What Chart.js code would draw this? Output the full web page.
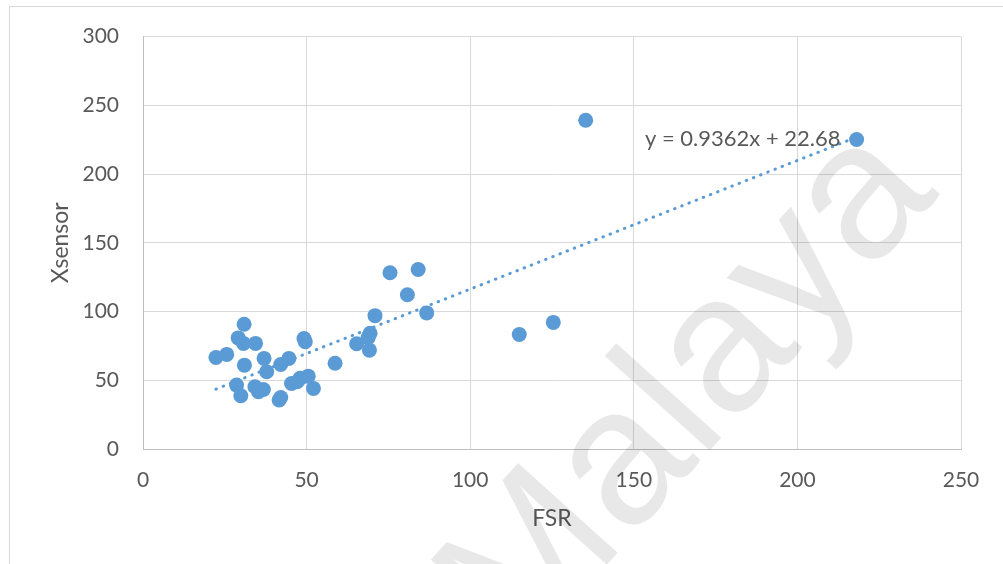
<!DOCTYPE html>
<html>
<head>
<meta charset="utf-8">
<script src="https://cdn.jsdelivr.net/npm/chart.js@4.4.1/dist/chart.umd.min.js"></script>
<style>
  html, body { margin: 0; padding: 0; background: #fff; }
  #wrap { width: 1003px; height: 564px; position: relative; }
</style>
</head>
<body>
<div id="wrap"><canvas id="scatter_chart"></canvas></div>
<script>
// FSR vs Xsensor readings
var fsr = [22.3, 25.6, 29.1, 30.9, 30.7, 31.0, 28.6, 29.9, 34.4, 34.2, 35.3, 36.8, 37.0, 37.8,
           41.6, 42.1, 42.1, 44.6, 45.4, 47.1, 48.0, 49.2, 49.6, 50.5, 52.1, 58.7, 65.3, 68.8,
           69.2, 69.4, 70.9, 75.5, 80.8, 84.1, 86.7, 115.0, 125.4, 135.3, 218.1];
var xsensor = [66.6, 68.8, 80.8, 90.8, 76.8, 61.0, 46.5, 38.7, 76.8, 45.3, 41.6, 43.3, 65.9, 56.2,
               35.6, 37.5, 61.5, 65.9, 47.7, 48.9, 51.4, 80.4, 78.0, 53.0, 44.1, 62.4, 76.6, 81.0,
               71.9, 84.2, 97.0, 128.2, 112.2, 130.6, 99.0, 83.3, 92.1, 239.2, 225.1];

var xTicks = [0, 50, 100, 150, 200, 250];
var yTicks = [0, 50, 100, 150, 200, 250, 300];

// trendline shown on the chart: y = 0.9362x + 22.68
var trendSlope = [0.9362];
var trendIntercept = [22.68];
var trendLabel = 'y = 0.9362x + 22.68';

var xMin = Math.min.apply(null, fsr);
var xMax = Math.max.apply(null, fsr);
var trendData = [xMin, xMax].map(function (x) {
    return { x: x, y: trendSlope[0] * x + trendIntercept[0] };
});

var points = fsr.map(function (x, i) { return { x: x, y: xsensor[i] }; });

var FONT = 'Lato, "Open Sans", sans-serif';
var TEXT = '#595959';
var BLUE = '#5B9BD5';

var extras = {
    id: 'extras',
    beforeDraw: function (chart) {
        var ctx = chart.ctx;
        ctx.save();
        ctx.strokeStyle = '#d9d9d9';
        ctx.lineWidth = 1;
        ctx.strokeRect(9.5, 6.5, 1010, 600);
        ctx.restore();
    },
    afterDraw: function (chart) {
        var ctx = chart.ctx;
        ctx.save();
        ctx.font = '22px ' + FONT;
        ctx.fillStyle = TEXT;
        ctx.textAlign = 'left';
        ctx.textBaseline = 'alphabetic';
        ctx.fillText(trendLabel, 645, 146);

        // watermark
        ctx.translate(690, 392);
        ctx.rotate(-48 * Math.PI / 180);
        ctx.font = '195px "Liberation Sans", Arial, sans-serif';
        ctx.fillStyle = 'rgba(0,0,0,0.09)';
        ctx.textAlign = 'center';
        ctx.textBaseline = 'middle';
        ctx.fillText('Malaya', 0, 0);
        ctx.restore();
    }
};

new Chart(document.getElementById('scatter_chart').getContext('2d'), {
    type: 'scatter',
    data: {
        datasets: [{
            label: 'Xsensor',
            data: points,
            backgroundColor: BLUE,
            borderColor: BLUE,
            pointRadius: 7.5,
            pointHoverRadius: 7.5,
            borderWidth: 0,
            order: 1
        }, {
            type: 'line',
            label: 'Linear',
            data: trendData,
            borderColor: BLUE,
            borderWidth: 3,
            borderDash: [0.5, 7.2],
            borderCapStyle: 'round',
            pointRadius: 0,
            fill: false,
            order: 2
        }]
    },
    options: {
        responsive: true,
        maintainAspectRatio: false,
        animation: false,
        layout: { padding: { left: 0, right: 42, top: 36, bottom: 0 } },
        plugins: {
            legend: { display: false },
            tooltip: { enabled: false }
        },
        scales: {
            x: {
                type: 'linear',
                min: 0,
                max: 250,
                afterBuildTicks: function (axis) {
                    axis.ticks = xTicks.map(function (v) { return { value: v }; });
                },
                afterFit: function (axis) { axis.height = 115; },
                grid: { color: '#d9d9d9', lineWidth: 1, drawTicks: false },
                border: { color: '#bfbfbf', width: 1 },
                ticks: { color: TEXT, font: { family: FONT, size: 21 }, padding: 19 },
                title: {
                    display: true,
                    text: 'FSR',
                    color: TEXT,
                    font: { family: FONT, size: 23 },
                    padding: { top: 0, bottom: 32 }
                }
            },
            y: {
                type: 'linear',
                min: 0,
                max: 300,
                afterBuildTicks: function (axis) {
                    axis.ticks = yTicks.map(function (v) { return { value: v }; });
                },
                afterFit: function (axis) { axis.width = 143; },
                grid: { color: '#d9d9d9', lineWidth: 1, drawTicks: false },
                border: { color: '#bfbfbf', width: 1 },
                ticks: { color: TEXT, font: { family: FONT, size: 21 }, padding: 24 },
                title: {
                    display: true,
                    text: 'Xsensor',
                    color: TEXT,
                    font: { family: FONT, size: 23 },
                    padding: { top: 47, bottom: 0 }
                }
            }
        }
    },
    plugins: [extras]
});
</script>
</body>
</html>
